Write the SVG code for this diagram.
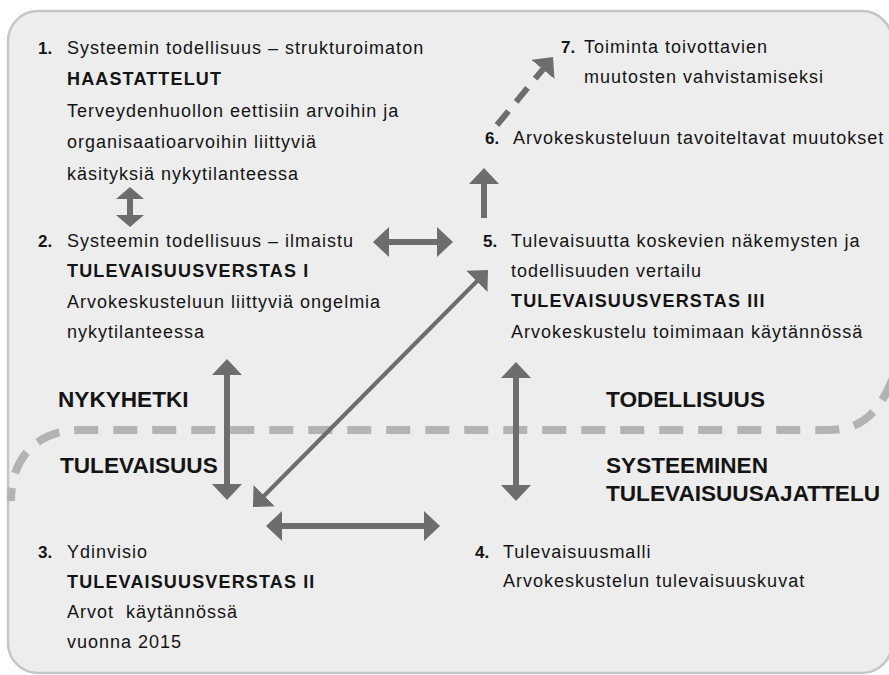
<svg xmlns="http://www.w3.org/2000/svg" width="889" height="675" viewBox="0 0 889 675">
  <defs>
    <style>
      text { font-family: "Liberation Sans", Arial, sans-serif; fill: #141414; }
      .t { font-size: 18px; letter-spacing: 1px; }
      .h { font-size: 18px; font-weight: bold; letter-spacing: 1.15px; }
      .n { font-size: 17px; font-weight: bold; }
      .big { font-size: 22.6px; font-weight: bold; }
      .arr { stroke: #6d6d6d; stroke-width: 6; fill: none; }
      .thin { stroke-width: 4; }
      .dash { stroke-dasharray: 18 12; }
      .bound { stroke: #b3b3b3; stroke-width: 8; fill: none; stroke-dasharray: 24 15; stroke-dashoffset: 11; }
    </style>
    <marker id="ah" viewBox="0 0 16 30" refX="4" refY="15" markerWidth="16" markerHeight="30" markerUnits="userSpaceOnUse" orient="auto-start-reverse">
      <path d="M0,0 L16,15 L0,30 Z" fill="#6d6d6d"/>
    </marker>
    <marker id="ahs" viewBox="0 0 12 28" refX="3" refY="14" markerWidth="12" markerHeight="28" markerUnits="userSpaceOnUse" orient="auto-start-reverse">
      <path d="M0,0 L12,14 L0,28 Z" fill="#6d6d6d"/>
    </marker>
  </defs>

  <!-- panel -->
  <rect x="8" y="11" width="884" height="662" rx="30" ry="30" fill="#ededed" stroke="#c6c6c6" stroke-width="2.5"/>

  <!-- present / future boundary -->
  <path class="bound" d="M 11 501 C 11 455, 40 430, 80 430 L 828 430 C 860 430, 880 415, 895 372"/>

  <!-- connectors -->
  <g id="connectors">
    <line class="arr" x1="130" y1="196" x2="130" y2="218" marker-start="url(#ahs)" marker-end="url(#ahs)"/>
    <line class="arr" x1="385" y1="242" x2="441" y2="242" marker-start="url(#ah)" marker-end="url(#ah)"/>
    <line class="arr" x1="484" y1="218" x2="484" y2="180" marker-end="url(#ah)"/>
    <line class="arr dash" x1="497" y1="125" x2="545.4" y2="66.3" marker-end="url(#ah)"/>
    <line class="arr" x1="227" y1="371" x2="227" y2="488" marker-start="url(#ah)" marker-end="url(#ah)"/>
    <line class="arr thin" x1="261.4" y1="498.5" x2="479.6" y2="278.5" marker-start="url(#ah)" marker-end="url(#ah)"/>
    <line class="arr" x1="278" y1="526" x2="428" y2="526" marker-start="url(#ah)" marker-end="url(#ah)"/>
    <line class="arr" x1="516" y1="374" x2="516" y2="489" marker-start="url(#ah)" marker-end="url(#ah)"/>
  </g>

  <g id="node1">
    <text class="n" x="38" y="54">1.</text>
    <text class="t" x="67" y="54">Systeemin todellisuus – strukturoimaton</text>
    <text class="h" x="67" y="85">HAASTATTELUT</text>
    <text class="t" x="67" y="117">Terveydenhuollon eettisiin arvoihin ja</text>
    <text class="t" x="67" y="148">organisaatioarvoihin liittyviä</text>
    <text class="t" x="67" y="180">käsityksiä nykytilanteessa</text>
  </g>

  <g id="node2">
    <text class="n" x="38" y="247">2.</text>
    <text class="t" x="67" y="247">Systeemin todellisuus – ilmaistu</text>
    <text class="h" x="67" y="277">TULEVAISUUSVERSTAS I</text>
    <text class="t" x="67" y="308">Arvokeskusteluun liittyviä ongelmia</text>
    <text class="t" x="67" y="338">nykytilanteessa</text>
  </g>

  <g id="node3">
    <text class="n" x="38" y="558">3.</text>
    <text class="t" x="67" y="558">Ydinvisio</text>
    <text class="h" x="67" y="588">TULEVAISUUSVERSTAS II</text>
    <text class="t" x="67" y="618" xml:space="preserve">Arvot  käytännössä</text>
    <text class="t" x="67" y="648">vuonna 2015</text>
  </g>

  <g id="node4">
    <text class="n" x="475" y="558">4.</text>
    <text class="t" x="503" y="558">Tulevaisuusmalli</text>
    <text class="t" x="503" y="587">Arvokeskustelun tulevaisuuskuvat</text>
  </g>

  <g id="node5">
    <text class="n" x="483" y="247">5.</text>
    <text class="t" x="511" y="247">Tulevaisuutta koskevien näkemysten ja</text>
    <text class="t" x="511" y="277">todellisuuden vertailu</text>
    <text class="h" x="511" y="307">TULEVAISUUSVERSTAS III</text>
    <text class="t" x="511" y="338">Arvokeskustelu toimimaan käytännössä</text>
  </g>

  <g id="node6">
    <text class="n" x="485" y="144">6.</text>
    <text class="t" x="513" y="144">Arvokeskusteluun tavoiteltavat muutokset</text>
  </g>

  <g id="node7">
    <text class="n" x="561" y="53">7.</text>
    <text class="t" x="584" y="53">Toiminta toivottavien</text>
    <text class="t" x="584" y="83">muutosten vahvistamiseksi</text>
  </g>

  <g id="labels">
    <text class="big" x="58" y="407">NYKYHETKI</text>
    <text class="big" x="60" y="473">TULEVAISUUS</text>
    <text class="big" x="606" y="407">TODELLISUUS</text>
    <text class="big" x="606" y="473">SYSTEEMINEN</text>
    <text class="big" x="606" y="501">TULEVAISUUSAJATTELU</text>
  </g>
</svg>
